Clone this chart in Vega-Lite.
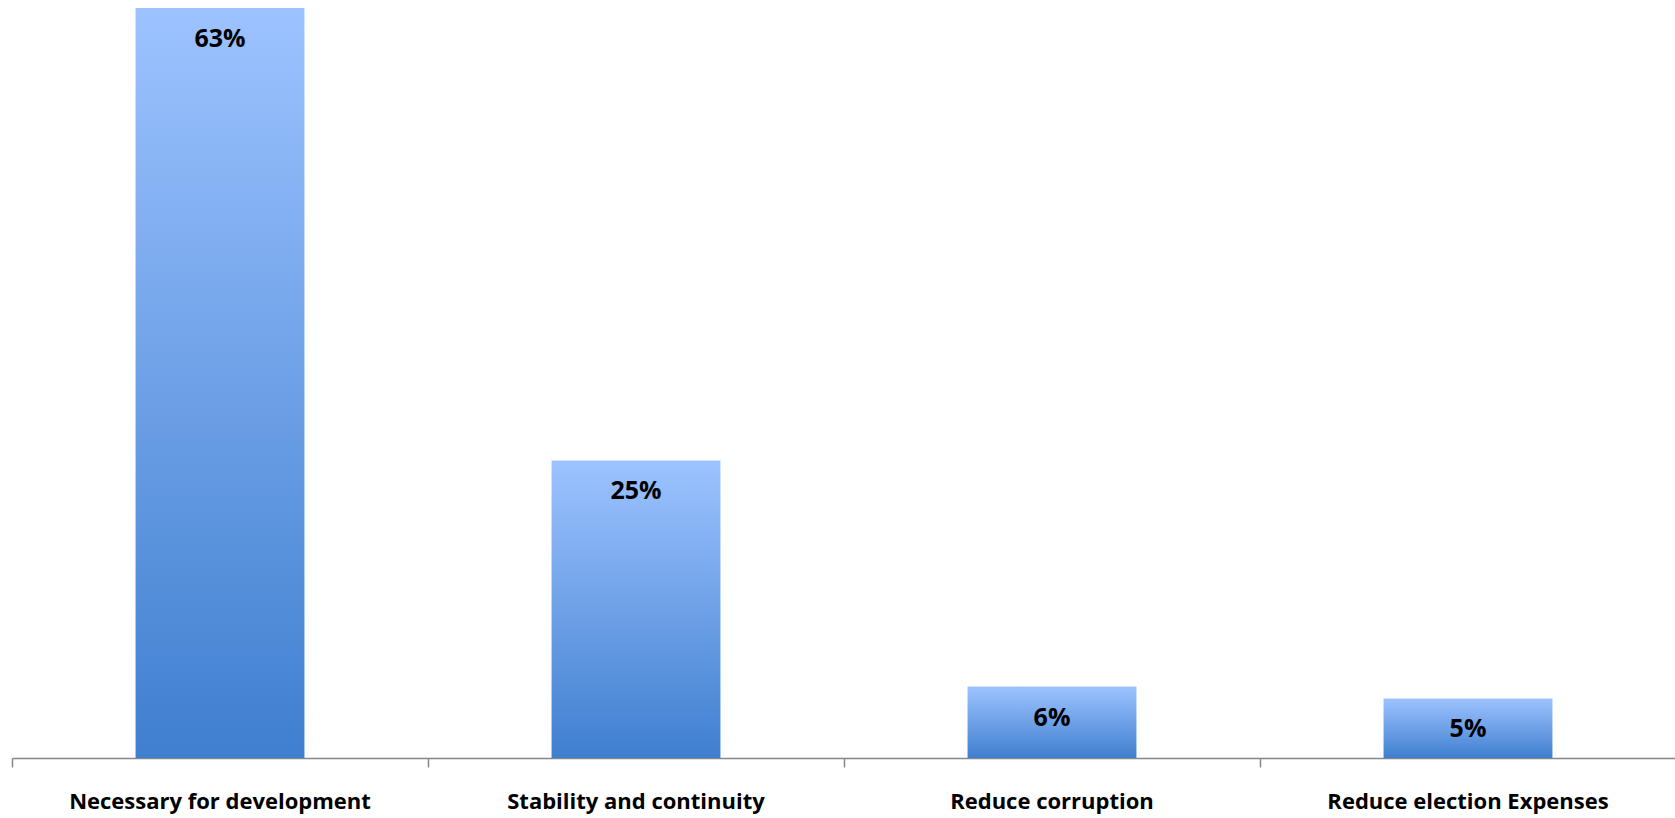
{
  "$schema": "https://vega.github.io/schema/vega-lite/v6.json",
  "width": 1664,
  "height": 750,
  "padding": {"left": 11, "top": 8, "right": 0, "bottom": 4},
  "background": "white",
  "config": {
    "view": {"stroke": "transparent"},
    "font": "Open Sans"
  },
  "data": {
    "values": [
      {"reason": "Necessary for development", "share": 0.63},
      {"reason": "Stability and continuity", "share": 0.25},
      {"reason": "Reduce corruption", "share": 0.06},
      {"reason": "Reduce election Expenses", "share": 0.05}
    ]
  },
  "encoding": {
    "x": {
      "field": "reason",
      "type": "nominal",
      "sort": null,
      "title": null,
      "scale": {"paddingInner": 0, "paddingOuter": 0},
      "axis": {
        "bandPosition": 0,
        "labelAngle": 0,
        "labelLimit": 0,
        "labelFont": "Open Sans",
        "labelFontSize": 22,
        "labelFontWeight": "bold",
        "labelColor": "black",
        "labelPadding": 24,
        "domainColor": "#868686",
        "domainWidth": 1.5,
        "tickColor": "#868686",
        "tickWidth": 1.5,
        "tickSize": 9,
        "grid": false
      }
    },
    "y": {
      "field": "share",
      "type": "quantitative",
      "scale": {"domain": [0, 0.63], "nice": false},
      "axis": null
    }
  },
  "layer": [
    {
      "mark": {
        "type": "bar",
        "width": {"band": 0.406},
        "color": {
          "gradient": "linear",
          "x1": 0, "y1": 0, "x2": 0, "y2": 1,
          "stops": [
            {"offset": 0, "color": "#9DC3FF"},
            {"offset": 1, "color": "#3F7FCF"}
          ]
        }
      }
    },
    {
      "mark": {
        "type": "text",
        "baseline": "middle",
        "dy": 31,
        "fontSize": 25,
        "fontWeight": "bold",
        "color": "black"
      },
      "encoding": {
        "text": {"field": "share", "type": "quantitative", "format": ".0%"}
      }
    }
  ]
}
